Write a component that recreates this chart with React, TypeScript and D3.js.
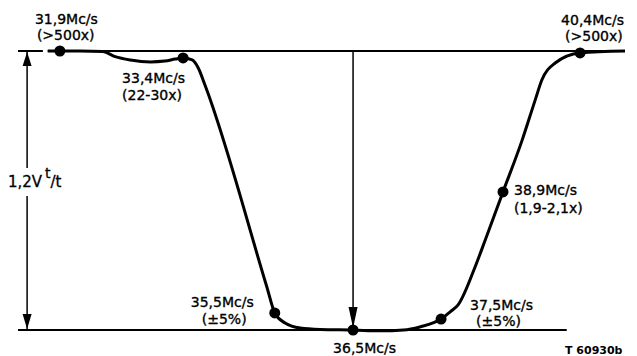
import React from "react";
import * as d3 from "d3";

// Response curve: horizontal position (0–100 across the frame) and relative level (0 = bottom line, 1 = top line)
const CURVE_POS = [4.9, 6.9, 10.2, 14.0, 16.0, 18.5, 21.8, 24.2, 25.9, 27.2, 28.7, 29.7, 30.8, 41.0, 42.3, 44.0, 46.5, 49.8, 55.2, 59.6, 63.5, 66.2, 69.7, 71.2, 72.5, 75.3, 77.1, 79.9, 83.0, 85.2, 86.3, 88.5, 92.6, 100];
const CURVE_VAL = [1.0, 1.0, 1.0, 0.998, 0.98, 0.968, 0.961, 0.964, 0.971, 0.975, 0.968, 0.939, 0.878, 0.154, 0.061, 0.025, 0.007, 0.002, 0.0, -0.003, 0.0, 0.011, 0.039, 0.065, 0.09, 0.226, 0.33, 0.495, 0.677, 0.824, 0.896, 0.957, 0.993, 1.0];

// Marked frequencies
const MARK_FREQ = ["31,9Mc/s", "33,4Mc/s", "35,5Mc/s", "36,5Mc/s", "37,5Mc/s", "38,9Mc/s", "40,4Mc/s"];
const MARK_NOTE = ["(>500x)", "(22-30x)", "(±5%)", "", "(±5%)", "(1,9-2,1x)", "(>500x)"];
const MARK_POS = [6.9, 27.2, 42.3, 55.2, 69.7, 79.9, 92.6];
const MARK_VAL = [1.0, 0.975, 0.061, 0.0, 0.039, 0.495, 0.993];

const SPAN_LABEL = ["1,2V", "t", "/t"];
const CODE_LABEL = "T 60930b";

// label offsets relative to the marker: [dx1, dy1, dx2, dy2]
const LABEL_OFFSETS = [
  [-25, -27, -23, -11],
  [-61, 25, -61, 42],
  [-84, -6, -73, 11],
  [-20, 23, 0, 0],
  [29, -9, 35, 7],
  [11, 3, 11, 21],
  [-19, -28, -15, -12],
];

export default function App() {
  const W = 637;
  const H = 356;
  const x = d3.scaleLinear().domain([0, 100]).range([18, 625]);
  const y = d3.scaleLinear().domain([0, 1]).range([330, 51]);

  const pts: [number, number][] = CURVE_POS.map((p, i) => [p, CURVE_VAL[i]]);
  const line = d3
    .line<[number, number]>()
    .x((d) => x(d[0]))
    .y((d) => y(d[1]))
    .curve(d3.curveMonotoneX);

  const font = "'DejaVu Sans', sans-serif";
  const fs = 14;

  const leftX = x(1.5);
  const centerX = x(MARK_POS[3]);
  const top = y(1);
  const bottom = y(0);

  const arrowDown = (cx: number, tip: number, len: number, hw: number) =>
    `M${cx},${tip} L${cx - hw},${tip - len} L${cx + hw},${tip - len} Z`;
  const arrowUp = (cx: number, tip: number, len: number, hw: number) =>
    `M${cx},${tip} L${cx - hw},${tip + len} L${cx + hw},${tip + len} Z`;

  return (
    <div style={{ position: "fixed", left: 0, top: 0, background: "#fff" }}>
      <svg width={W} height={H} style={{ display: "block" }}>
        <rect width={W} height={H} fill="#fff" />
        {/* top and bottom reference lines */}
        <line x1={x(0)} x2={x(4.1)} y1={top} y2={top} stroke="#000" strokeWidth={2} />
        <line x1={x(4.9)} x2={x(100)} y1={top} y2={top} stroke="#000" strokeWidth={2} />
        <line x1={x(0)} x2={x(90.4)} y1={bottom} y2={bottom} stroke="#000" strokeWidth={2} />

        {/* left span arrow */}
        <line x1={leftX} x2={leftX} y1={top} y2={bottom} stroke="#000" strokeWidth={1.5} />
        <path d={arrowUp(leftX, top + 1, 14, 4.5)} fill="#000" />
        <path d={arrowDown(leftX, bottom - 1, 15, 4.5)} fill="#000" />
        <rect x={5} y={168} width={40} height={28} fill="#fff" />
        <text fontFamily={font} fontSize={15} fill="#000" stroke="#000" strokeWidth={0.3}>
          <tspan x={8} y={187}>{SPAN_LABEL[0]}</tspan>
          <tspan x={45} y={178} fontSize={14}>{SPAN_LABEL[1]}</tspan>
          <tspan y={187}>{SPAN_LABEL[2]}</tspan>
        </text>

        {/* centre arrow */}
        <line x1={centerX} x2={centerX} y1={top} y2={bottom - 4} stroke="#000" strokeWidth={1.5} />
        <path d={arrowDown(centerX, bottom - 2, 21, 4.5)} fill="#000" />

        {/* response curve */}
        <path d={line(pts) || ""} fill="none" stroke="#000" strokeWidth={3} strokeLinejoin="round" />

        {/* markers and labels */}
        {MARK_POS.map((p, i) => {
          const cx = x(p);
          const cy = y(MARK_VAL[i]);
          const o = LABEL_OFFSETS[i];
          return (
            <g key={i}>
              <circle cx={cx} cy={cy} r={5.5} fill="#000" />
              <text x={cx + o[0]} y={cy + o[1]} fontFamily={font} fontSize={fs} fill="#000" stroke="#000" strokeWidth={0.35}>
                {MARK_FREQ[i]}
              </text>
              {MARK_NOTE[i] && (
                <text x={cx + o[2]} y={cy + o[3]} fontFamily={font} fontSize={fs} fill="#000" stroke="#000" strokeWidth={0.35}>
                  {MARK_NOTE[i]}
                </text>
              )}
            </g>
          );
        })}

        <text x={565} y={354} fontFamily={font} fontSize={11} fontWeight="bold" fill="#000">
          {CODE_LABEL}
        </text>
      </svg>
    </div>
  );
}
